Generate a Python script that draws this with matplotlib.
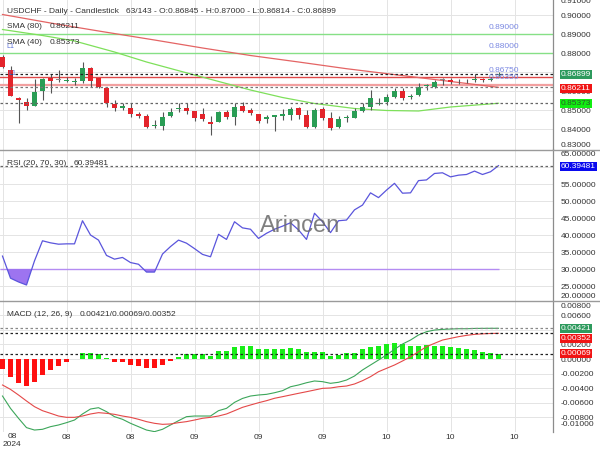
import numpy as np
import matplotlib.pyplot as plt
import matplotlib.transforms as mtransforms
from matplotlib.lines import Line2D
from matplotlib.ticker import FormatStrFormatter

plt.rcParams['font.family'] = ['Liberation Sans', 'DejaVu Sans']

# --- Data ---
opens = [0.87822, 0.87123, 0.85666, 0.85456, 0.85246, 0.86018, 0.86686, 0.86623, 0.86560, 0.86492,
         0.86544, 0.87244, 0.86686, 0.86192, 0.85319, 0.85141, 0.85141, 0.84794, 0.84704, 0.84163,
         0.84178, 0.84704, 0.85072, 0.85141, 0.84967, 0.84794, 0.84404, 0.84404, 0.84930, 0.84651,
         0.85246, 0.85019, 0.84794, 0.84530, 0.84667, 0.84720, 0.84756, 0.85109, 0.84756, 0.84141,
         0.85072, 0.84615, 0.84141, 0.84578, 0.84615, 0.84967, 0.85193, 0.85335, 0.85424, 0.85719,
         0.86018, 0.85703, 0.85808, 0.86281, 0.86245, 0.86597, 0.86597, 0.86529, 0.86529, 0.86581,
         0.86650, 0.86613, 0.86845]
highs = [0.87912, 0.87333, 0.85703, 0.85666, 0.86650, 0.86718, 0.86897, 0.87123, 0.86771, 0.86718,
         0.87528, 0.87270, 0.86718, 0.86245, 0.85545, 0.85372, 0.85372, 0.84899, 0.84794, 0.84493,
         0.84930, 0.85109, 0.85372, 0.85372, 0.84990, 0.85109, 0.84720, 0.84967, 0.85019, 0.85372,
         0.85456, 0.85124, 0.84809, 0.84756, 0.84756, 0.85072, 0.85193, 0.85193, 0.85019, 0.85109,
         0.85193, 0.84930, 0.84704, 0.84756, 0.85109, 0.85372, 0.86071, 0.85666, 0.85845, 0.86161,
         0.86161, 0.85845, 0.86424, 0.86371, 0.86597, 0.86718, 0.86718, 0.86650, 0.86650, 0.86897,
         0.86686, 0.86771, 0.87000]
lows = [0.87254, 0.85730, 0.84320, 0.85019, 0.85246, 0.85545, 0.85898, 0.86476, 0.86476, 0.86334,
        0.86424, 0.86245, 0.86161, 0.85193, 0.84967, 0.85019, 0.84667, 0.84583, 0.84057, 0.84089,
        0.83967, 0.84667, 0.84930, 0.84794, 0.84441, 0.84441, 0.83704, 0.84380, 0.84546, 0.84230,
        0.84930, 0.84756, 0.84320, 0.84320, 0.83915, 0.84493, 0.84493, 0.84530, 0.84089, 0.84089,
        0.84493, 0.83967, 0.84057, 0.84404, 0.84583, 0.84930, 0.85019, 0.85282, 0.85282, 0.85666,
        0.85545, 0.85582, 0.85756, 0.86071, 0.86161, 0.86334, 0.86371, 0.86371, 0.86424, 0.86508,
        0.86508, 0.86544, 0.86814]
closes = [0.87296, 0.85772, 0.85530, 0.85246, 0.85982, 0.86650, 0.86544, 0.86623, 0.86597, 0.86529,
          0.87244, 0.86544, 0.86245, 0.85372, 0.85108, 0.85246, 0.84794, 0.84720, 0.84141, 0.84230,
          0.84667, 0.84930, 0.85141, 0.84967, 0.84583, 0.84546, 0.84267, 0.84899, 0.84651, 0.85193,
          0.84967, 0.84862, 0.84441, 0.84667, 0.84740, 0.84794, 0.85056, 0.84756, 0.84141, 0.85019,
          0.84615, 0.84089, 0.84530, 0.84651, 0.84967, 0.85193, 0.85666, 0.85404, 0.85719, 0.86018,
          0.85666, 0.85756, 0.86245, 0.86318, 0.86508, 0.86597, 0.86508, 0.86560, 0.86560, 0.86650,
          0.86613, 0.86650, 0.86899]

sma80_idx = [0, 6, 12, 19, 25, 31, 37, 43, 49, 55, 62]
sma80 = [0.90041, 0.89594, 0.89174, 0.88700, 0.88280, 0.87885, 0.87544, 0.87191, 0.86881, 0.86571, 0.86211]
sma40_idx = [0, 5, 9, 14, 18, 24, 31, 35, 39, 44, 48, 52, 56, 62]
sma40 = [0.89252, 0.88937, 0.88648, 0.88069, 0.87544, 0.86860, 0.86071, 0.85677, 0.85362, 0.85099,
         0.84994, 0.84967, 0.85178, 0.85373]

green_levels = [0.89, 0.88]
red_levels = [0.8675, 0.8635]

rsi = [33.8, 27.3, 26.2, 25.3, 32.4, 38.3, 37.7, 37.3, 37.4, 37.4,
       44.2, 40.0, 38.5, 34.0, 32.9, 33.4, 31.9, 31.4, 29.1, 29.1,
       34.4, 36.6, 38.5, 37.6, 36.0, 34.3, 33.6, 40.2, 38.7, 43.9,
       42.1, 41.7, 39.0, 40.5, 41.7, 42.6, 43.6, 41.5, 38.7, 46.4,
       43.9, 40.7, 44.2, 44.4, 47.4, 48.8, 52.4, 51.0, 53.2, 55.2,
       52.3, 52.4, 56.0, 56.2, 58.1, 58.3, 57.1, 57.6, 57.8, 58.8,
       57.8, 58.6, 60.39481]
rsi_low = 30

macd = [-0.00507, -0.00676, -0.00812, -0.00940, -0.00973, -0.00963, -0.00927, -0.00904, -0.00872, -0.00836,
        -0.00753, -0.00685, -0.00667, -0.00721, -0.00790, -0.00826, -0.00881, -0.00927, -0.00973, -0.00995,
        -0.00963, -0.00904, -0.00845, -0.00790, -0.00781, -0.00781, -0.00781, -0.00708, -0.00676, -0.00594,
        -0.00540, -0.00507, -0.00493, -0.00484, -0.00462, -0.00434, -0.00380, -0.00356, -0.00325, -0.00301,
        -0.00310, -0.00333, -0.00319, -0.00288, -0.00233, -0.00150, -0.00082, -0.00014, 0.00055, 0.00133,
        0.00205, 0.00260, 0.00329, 0.00374, 0.00397, 0.00406, 0.00411, 0.00415, 0.00415, 0.00419,
        0.00420, 0.00421, 0.00421]
signal = [-0.00356, -0.00416, -0.00493, -0.00575, -0.00653, -0.00708, -0.00744, -0.00781, -0.00799, -0.00799,
          -0.00781, -0.00753, -0.00735, -0.00744, -0.00758, -0.00781, -0.00799, -0.00826, -0.00858, -0.00881,
          -0.00895, -0.00890, -0.00872, -0.00858, -0.00836, -0.00812, -0.00799, -0.00781, -0.00753, -0.00708,
          -0.00662, -0.00630, -0.00599, -0.00571, -0.00538, -0.00516, -0.00493, -0.00470, -0.00448, -0.00425,
          -0.00402, -0.00397, -0.00380, -0.00370, -0.00342, -0.00297, -0.00242, -0.00174, -0.00128, -0.00082,
          -0.00027, 0.00032, 0.00100, 0.00169, 0.00215, 0.00260, 0.00283, 0.00306, 0.00324, 0.00338,
          0.00345, 0.00350, 0.00352]
hist = [-0.00137, -0.00250, -0.00324, -0.00366, -0.00310, -0.00219, -0.00150, -0.00096, -0.00041, 0.0,
        0.00078, 0.00078, 0.00064, 0.00010, -0.00041, -0.00046, -0.00082, -0.00096, -0.00128, -0.00120,
        -0.00082, -0.00027, 0.00032, 0.00069, 0.00069, 0.00069, 0.00041, 0.00110, 0.00110, 0.00164,
        0.00173, 0.00173, 0.00137, 0.00137, 0.00137, 0.00137, 0.00155, 0.00137, 0.00100, 0.00100,
        0.00100, 0.00046, 0.00055, 0.00078, 0.00078, 0.00133, 0.00169, 0.00183, 0.00200, 0.00215,
        0.00200, 0.00178, 0.00178, 0.00192, 0.00183, 0.00183, 0.00169, 0.00146, 0.00133, 0.00123,
        0.00100, 0.00078, 0.00069]

grid_idx = [0, 8, 16, 24, 32, 40, 48, 56, 64]
grid_labels = ['08', '08', '08', '09', '09', '09', '10', '10', '10']

main_ticks = [0.84, 0.85, 0.86, 0.87, 0.88, 0.89, 0.90]
rsi_ticks = [25, 30, 35, 40, 45, 50, 55, 60]
macd_ticks = [-0.008, -0.006, -0.004, -0.002, 0.0, 0.002, 0.004, 0.006]

# --- Colours ---
C_UP = '#2a9d55'
C_DOWN = '#e3242b'
C_FLAT = '#8a8a8a'
C_GRID = '#e4e4e4'
C_TXT = '#333333'

W, H = 600, 450


def fx(x):
    return x / W


def fy(y):
    return 1 - y / H


fig = plt.figure(figsize=(6, 4.5), dpi=100)
x_right = 553
ax1 = fig.add_axes([0, fy(149.5), fx(x_right), fy(0) - fy(149.5)])
ax2 = fig.add_axes([0, fy(301), fx(x_right), fy(149.5) - fy(301)])
ax3 = fig.add_axes([0, fy(432), fx(x_right), fy(301) - fy(432)])

idx = np.arange(len(closes))
for ax in (ax1, ax2, ax3):
    ax.set_xlim(-0.3125, 68.8125)
    ax.set_xticks(grid_idx)
    ax.grid(True, color=C_GRID, lw=0.7, zorder=0)
    ax.set_axisbelow(True)
    for s in ('top', 'left', 'bottom'):
        ax.spines[s].set_visible(False)
    ax.spines['right'].set_color('#8c8c8c')
    ax.spines['right'].set_linewidth(0.9)
    ax.yaxis.tick_right()
    ax.tick_params(axis='y', length=0, pad=5.6, labelsize=6, labelcolor=C_TXT)
    ax.tick_params(axis='x', length=0)
    ax.yaxis.set_major_formatter(FormatStrFormatter('%.5f'))

ax1.tick_params(axis='x', labelbottom=False)
ax2.tick_params(axis='x', labelbottom=False)


def right_label(ax, val, txt, dy=0, fc=None, tc=C_TXT):
    # dy > 0 moves the label down by dy pixels
    tr = mtransforms.offset_copy(ax.get_yaxis_transform(), fig=fig, x=7.8, y=-dy, units='dots')
    box = None
    if fc is not None:
        box = dict(boxstyle='square,pad=0.12', fc=fc, ec='none')
    ax.text(1, val, txt, transform=tr, ha='left', va='center', fontsize=6,
            color=tc, bbox=box, clip_on=False, zorder=6)


def level_line(ax, val, color):
    ax.axhline(val, color=color, lw=0.9, ls=(0, (2, 2)), zorder=4)


# --- Main price panel ---
ax1.set_ylim(0.82943, 0.90803)
ax1.set_yticks(main_ticks)
for lv in green_levels:
    ax1.axhline(lv, color='#86e086', lw=1.0, zorder=1)
ax1.axhline(red_levels[0], color='#e04848', lw=1.0, zorder=1)
ax1.axhline(red_levels[1], color='#f2a0a0', lw=1.6, zorder=1)
ax1.plot(sma80_idx, sma80, color='#e46464', lw=0.9, zorder=2)
ax1.plot(sma40_idx, sma40, color='#7ee05a', lw=0.9, zorder=2)

o = np.array(opens)
c = np.array(closes)
body_bottom = np.minimum(o, c)
body_h = np.maximum(np.abs(c - o), 0.0004)
cols = [C_UP if cc > oo else (C_DOWN if cc < oo else C_FLAT) for oo, cc in zip(o, c)]
ax1.vlines(idx, lows, highs, color='#555555', lw=0.8, zorder=3)
ax1.bar(idx, body_h, bottom=body_bottom, width=0.62, color=cols, zorder=3)

level_line(ax1, closes[-1], '#222222')
level_line(ax1, sma80[-1], '#777777')
level_line(ax1, sma40[-1], '#666666')

for lv in green_levels + red_levels:
    ax1.annotate(f'{lv:.5f}', xy=(60.8, lv), xytext=(0, 2.5), textcoords='offset points',
                 fontsize=6, color='#7a88e2', va='bottom', ha='left', zorder=5)

right_label(ax1, 0.83, '0.83000', dy=-2.5)
right_label(ax1, 0.91, '0.91000', dy=5)
right_label(ax1, closes[-1], f'{closes[-1]:.5f}', fc='#2d9a5d', tc='white')
right_label(ax1, sma80[-1], f'{sma80[-1]:.5f}', dy=1, fc='#f01414', tc='white')
right_label(ax1, sma40[-1], f'{sma40[-1]:.5f}', fc='#11ee11', tc='#2a5a2a')

# --- RSI panel ---
ax2.set_ylim(20.59, 65.15)
ax2.set_yticks(rsi_ticks)
ax2.hlines(rsi_low, -0.3125, idx[-1], color='#b48cf2', lw=1.0, zorder=2)
rsi_arr = np.array(rsi)
ax2.fill_between(idx, rsi_arr, rsi_low, where=rsi_arr < rsi_low, interpolate=True,
                 color='#9d74f0', lw=0, zorder=2)
ax2.plot(idx, rsi_arr, color='#5a55dc', lw=0.9, zorder=3)
level_line(ax2, rsi[-1], '#666666')
right_label(ax2, 65, '65.00000', dy=4.8)
right_label(ax2, 20, '20.00000', dy=-7)
right_label(ax2, rsi[-1], f'{rsi[-1]:.5f}', dy=0.8, fc='#0a0aee', tc='white')

# --- MACD panel ---
ax3.set_ylim(-0.0100, 0.00795)
ax3.set_yticks(macd_ticks)
hcols = ['#18ee18' if h >= 0 else '#ff1010' for h in hist]
ax3.bar(idx, hist, width=0.58, color=hcols, zorder=2)
ax3.plot(idx, macd, color='#3ca65a', lw=0.8, zorder=3)
ax3.plot(idx, signal, color='#e44848', lw=0.8, zorder=3)
level_line(ax3, macd[-1], '#888888')
level_line(ax3, signal[-1], '#222222')
level_line(ax3, hist[-1], '#222222')
right_label(ax3, 0.008, '0.00800', dy=5.5)
right_label(ax3, -0.010, '-0.01000', dy=-7)
right_label(ax3, macd[-1], f'{macd[-1]:.5f}', fc='#2d9a5d', tc='white')
right_label(ax3, signal[-1], f'{signal[-1]:.5f}', dy=5.5, fc='#f01414', tc='white')
right_label(ax3, hist[-1], f'{hist[-1]:.5f}', fc='#f01414', tc='white')

ax3.set_xticklabels([''] + grid_labels[1:])
ax3.tick_params(axis='x', pad=1.2, labelsize=6, labelcolor=C_TXT)
first_tr = mtransforms.offset_copy(ax3.transAxes, fig=fig, x=12, y=-1.5, units='dots')
ax3.text(0, 0, grid_labels[0], transform=first_tr, ha='center', va='top', fontsize=6, color=C_TXT)
year_tr = mtransforms.offset_copy(ax3.transAxes, fig=fig, x=3, y=-9.5, units='dots')
ax3.text(0, 0, '2024', transform=year_tr, ha='left', va='top', fontsize=6, color=C_TXT)

# --- Panel separators ---
for yy in (149.5, 301):
    fig.add_artist(Line2D([0, 1], [fy(yy), fy(yy)], transform=fig.transFigure,
                          color='#9a9a9a', lw=1.0))

# --- Header texts ---
fig.text(fx(7.3), fy(13), 'USDCHF - Daily - Candlestick', fontsize=6, color=C_TXT, va='baseline')
fig.text(fx(126), fy(13), '63/143 - O:0.86845 - H:0.87000 - L:0.86814 - C:0.86899',
         fontsize=6, color=C_TXT, va='baseline')
fig.text(fx(7.3), fy(28.5), 'SMA (80)', fontsize=6, color=C_TXT, va='baseline')
fig.text(fx(50), fy(28.5), f'{sma80[-1]:.5f}', fontsize=6, color=C_TXT, va='baseline')
fig.text(fx(7.3), fy(43.5), 'SMA (40)', fontsize=6, color=C_TXT, va='baseline')
fig.text(fx(50), fy(43.5), f'{sma40[-1]:.5f}', fontsize=6, color=C_TXT, va='baseline')
fig.text(fx(6), fy(48), 'L1', fontsize=5, color='#5a6fd8', va='baseline')
fig.text(fx(8), fy(75), 'L1', fontsize=5, color='#5a6fd8', va='baseline')
fig.text(fx(7.3), fy(164.5), 'RSI (20, 70, 30)', fontsize=6, color=C_TXT, va='baseline')
fig.text(fx(73.3), fy(164.5), f'{rsi[-1]:.5f}', fontsize=6, color=C_TXT, va='baseline')
fig.text(fx(7.3), fy(315.5), 'MACD (12, 26, 9)', fontsize=6, color=C_TXT, va='baseline')
fig.text(fx(79.3), fy(315.5), f'{macd[-1]:.5f}/{hist[-1]:.5f}/{signal[-1]:.5f}',
         fontsize=6, color=C_TXT, va='baseline')

# watermark
fig.text(fx(300), fy(231.7), 'Arincen', fontsize=17, color='#6a6a6a', alpha=0.85,
         ha='center', va='baseline', zorder=10)

fig.savefig('out.png', dpi=100)
